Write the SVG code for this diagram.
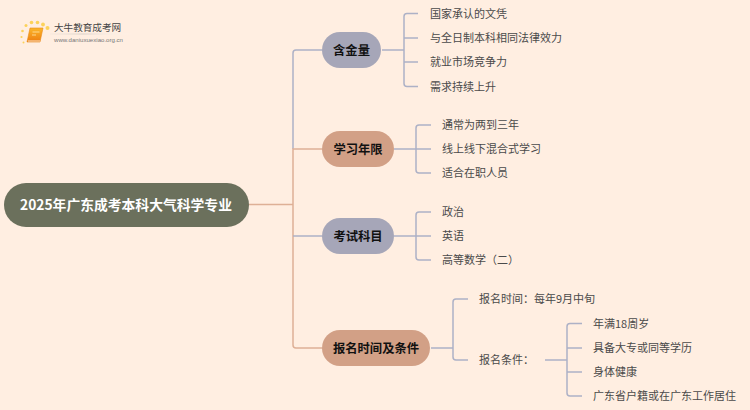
<svg xmlns="http://www.w3.org/2000/svg" width="750" height="410" viewBox="0 0 750 410">
<defs>
<linearGradient id="book" x1="0" y1="0" x2="0" y2="1"><stop offset="0" stop-color="#fbb62a"/><stop offset="1" stop-color="#ee7d10"/></linearGradient>
<linearGradient id="rule" x1="0" y1="0" x2="1" y2="0"><stop offset="0" stop-color="#e4dcd4" stop-opacity="0.3"/><stop offset="0.4" stop-color="#d8d0c8"/><stop offset="1" stop-color="#fff" stop-opacity="0"/></linearGradient>
</defs>
<style>
text{font-family:"Noto Sans CJK SC","Liberation Sans",sans-serif}
.leaf{font-size:11px;fill:#4a4a4a}
.main{font-size:12.300px;font-weight:700;fill:#111}
.bl{fill:none;stroke:#adb1c6;stroke-width:1.5}
.or{fill:none;stroke:#deb096;stroke-width:1.5}
.blue{fill:#a6a6b8}
.tan{fill:#d2a086}
</style>
<rect width="750" height="410" fill="#ffeee1"/>
<g id="logo">
<g fill="#fcd25a"><circle cx="47.500" cy="28" r="2"/><circle cx="37.500" cy="22.500" r="1.800"/><circle cx="31.500" cy="22.500" r="1.800"/><circle cx="26" cy="25.500" r="1.500"/><circle cx="22.500" cy="31" r="1.300"/><circle cx="21.500" cy="37" r="1.100"/><circle cx="23.500" cy="42.500" r="1"/><circle cx="43" cy="24.500" r="1.900"/></g>
<path d="M30 28h13l-3 14h-13z" fill="url(#book)" stroke="#e88a18" stroke-width="0.600"/>
<path d="M28 41h12" stroke="#fff" stroke-width="0.800"/>
<path d="M32.500 32h7M32 35h4" stroke="#ffe6a8" stroke-width="0.800"/>
<text x="54" y="31" style="font-size:9.600px;fill:#444">大牛教育成考网</text>
<rect x="50" y="33.500" width="84" height="1" fill="url(#rule)"/>
<text x="54" y="41.500" textLength="69" lengthAdjust="spacingAndGlyphs" style="font-size:6px;fill:#777;font-family:'Liberation Sans',sans-serif">www.daniuxuexiao.org.cn</text>
</g>
<g id="connectors">
<path class="or" d="M249 204.500H293"/>
<path class="bl" d="M322 50H296Q293 50 293 53V149"/>
<path class="or" d="M322 149H293V345Q293 348 296 348H322"/>
<path class="bl" d="M293 236H322"/>
<path class="bl" d="M382 50H404M418 13.500H407Q404 13.500 404 16.500V83.500Q404 86.500 407 86.500H418M404 38H418M404 62H418"/>
<path class="bl" d="M394 149H431M431 125H419Q416 125 416 128V170Q416 173 419 173H431"/>
<path class="bl" d="M394 236H431M431 212H419Q416 212 416 215V257Q416 260 419 260H431"/>
<path class="bl" d="M431 348H453M468 299H456Q453 299 453 302V357Q453 360 456 360H468"/>
<path class="bl" d="M545 360H567M582 323.500H570Q567 323.500 567 326.500V393Q567 396 570 396H582M567 348H582M567 372H582"/>
</g>
<g id="root"><rect x="4" y="183" width="245" height="44" rx="22" fill="#6b705c"/><text x="126" y="209.500" text-anchor="middle" style="font-size:13.800px;font-weight:700;fill:#fff">2025年广东成考本科大气科学专业</text></g>
<g id="n1"><rect class="blue" x="322" y="32" width="59" height="36" rx="18"/><text class="main" x="351.500" y="54.500" text-anchor="middle">含金量</text></g>
<g id="n2"><rect class="tan" x="322" y="131" width="72" height="36" rx="18"/><text class="main" x="358" y="153.500" text-anchor="middle">学习年限</text></g>
<g id="n3"><rect class="blue" x="322" y="218" width="72" height="36" rx="18"/><text class="main" x="358" y="240.500" text-anchor="middle">考试科目</text></g>
<g id="n4"><rect class="tan" x="322" y="330" width="108" height="36" rx="18"/><text class="main" x="376" y="352.500" text-anchor="middle">报名时间及条件</text></g>
<g id="leaves">
<text class="leaf" x="430" y="17.500">国家承认的文凭</text>
<text class="leaf" x="430" y="42">与全日制本科相同法律效力</text>
<text class="leaf" x="430" y="66">就业市场竞争力</text>
<text class="leaf" x="430" y="90.500">需求持续上升</text>
<text class="leaf" x="442" y="129">通常为两到三年</text>
<text class="leaf" x="442" y="153">线上线下混合式学习</text>
<text class="leaf" x="442" y="177">适合在职人员</text>
<text class="leaf" x="442" y="216">政治</text>
<text class="leaf" x="442" y="240">英语</text>
<text class="leaf" x="442" y="264">高等数学（二）</text>
<text class="leaf" x="479" y="303">报名时间：每年9月中旬</text>
<text class="leaf" x="479" y="364">报名条件：</text>
<text class="leaf" x="593" y="327.500">年满18周岁</text>
<text class="leaf" x="593" y="352">具备大专或同等学历</text>
<text class="leaf" x="593" y="376">身体健康</text>
<text class="leaf" x="593" y="400">广东省户籍或在广东工作居住</text>
</g>
</svg>
